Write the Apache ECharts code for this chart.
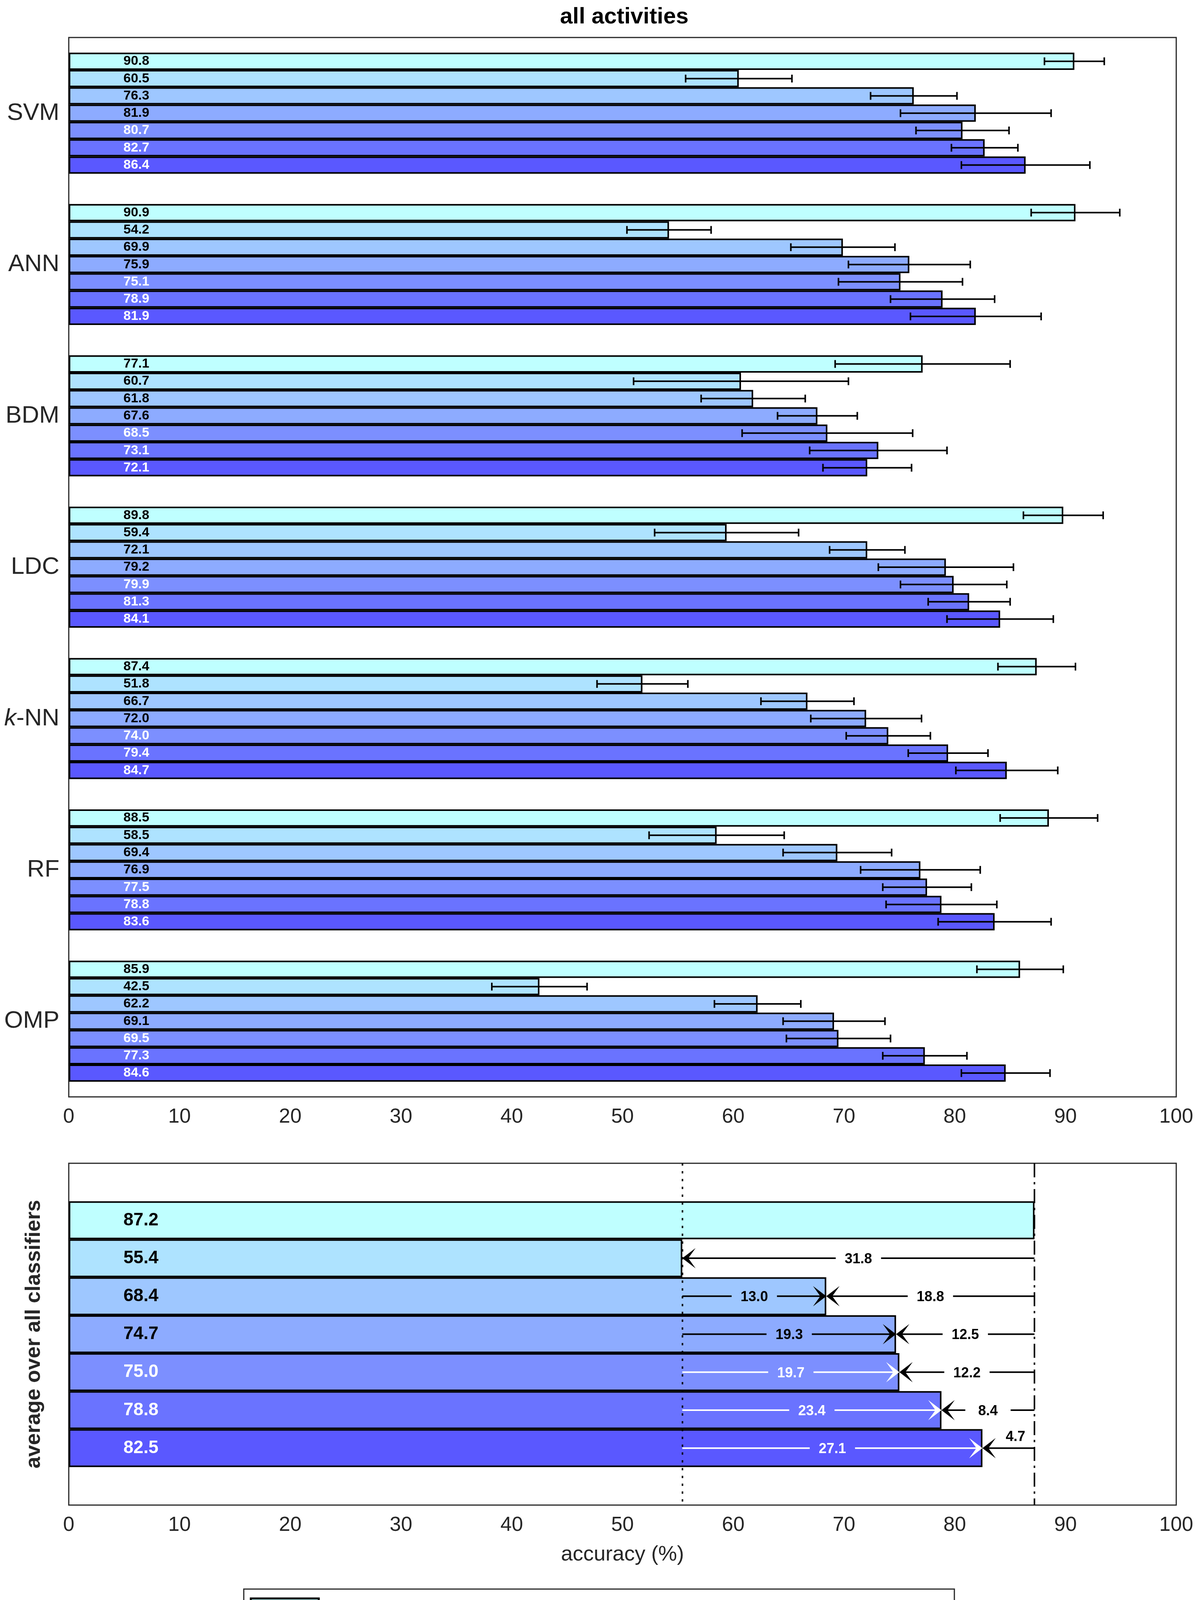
<!DOCTYPE html>
<html><head><meta charset="utf-8">
<script src="https://cdn.jsdelivr.net/npm/echarts@6/dist/echarts.min.js"></script>
<style>html,body{margin:0;padding:0;background:#fff}#c{width:3059px;height:4656px}</style>
</head><body><div id="c"></div>
<script>
const classifiers = ['SVM','ANN','BDM','LDC','k-NN','RF','OMP'];
const methodNames = ['reference (no transformation)','random rotation','Euclidean norm','sensor sequences with respect to the Earth frame','sensor sequences along and perpendicular to the gravity vector','SVD-based transformation','proposed method'];
const colors = ['#BFFFFF','#AEE3FF','#9EC7FF','#8DABFF','#7C8FFF','#6A73FF','#5A58FF'];
const labelColors = ['#000','#000','#000','#000','#fff','#fff','#fff'];
// accuracy per method (rows) over classifiers (columns)
const acc = [
 [90.8,90.9,77.1,89.8,87.4,88.5,85.9],
 [60.5,54.2,60.7,59.4,51.8,58.5,42.5],
 [76.3,69.9,61.8,72.1,66.7,69.4,62.2],
 [81.9,75.9,67.6,79.2,72.0,76.9,69.1],
 [80.7,75.1,68.5,79.9,74.0,77.5,69.5],
 [82.7,78.9,73.1,81.3,79.4,78.8,77.3],
 [86.4,81.9,72.1,84.1,84.7,83.6,84.6]
];
const err = [
 [2.7,4.0,7.9,3.6,3.5,4.4,3.9],
 [4.8,3.8,9.7,6.5,4.1,6.1,4.3],
 [3.9,4.7,4.7,3.4,4.2,4.9,3.9],
 [6.8,5.5,3.6,6.1,5.0,5.4,4.6],
 [4.2,5.6,7.7,4.8,3.8,4.0,4.7],
 [3.0,4.7,6.2,3.7,3.6,5.0,3.8],
 [5.8,5.9,4.0,4.8,4.6,5.1,4.0]
];
const avg = [87.2,55.4,68.4,74.7,75.0,78.8,82.5];
const gainLabels = [null,null,'13.0','19.3','19.7','23.4','27.1'];
const gapLabels = [null,'31.8','18.8','12.5','12.2','8.4','4.7'];
const xTicks = [0,10,20,30,40,50,60,70,80,90,100];

const FONT = "'Liberation Sans', Arial, sans-serif";
const NFONT = "'Liberation Sans Narrow','Liberation Sans', Arial, sans-serif";
const AX = '#262626';
const NB = 7;

function fmt(v){return v.toFixed(1);}

const series = [];
for (let s=0;s<NB;s++){
  series.push({
    type:'bar', name:methodNames[s], xAxisIndex:0, yAxisIndex:0,
    data: acc[s], barGap:'0%', barCategoryGap:'20%',
    itemStyle:{color:colors[s], borderColor:'#000', borderWidth:4},
    label:{show:true, position:'insideLeft', distance:140, formatter:p=>fmt(p.value),
      color:labelColors[s], fontFamily:NFONT, fontWeight:'bold', fontSize:34},
    silent:true, z:2
  });
}
// error bars
const errData = [];
for (let s=0;s<NB;s++) for (let c=0;c<classifiers.length;c++) errData.push([acc[s][c], err[s][c], c, s]);
series.push({
  type:'custom', xAxisIndex:0, yAxisIndex:0, z:5, silent:true,
  data: errData, encode:{x:0,y:2},
  renderItem:(params, api)=>{
    const v=api.value(0), e=api.value(1), c=api.value(2), s=api.value(3);
    const p = api.coord([v,c]);
    const band = api.size([0,1])[1];
    const bw = band*0.8/NB;
    const y = p[1] - 0.4*band + (s+0.5)*bw;
    const x1 = api.coord([v-e,c])[0], x2 = api.coord([v+e,c])[0];
    const st = {stroke:'#000', lineWidth:4};
    return {type:'group', children:[
      {type:'line', shape:{x1:x1,y1:y,x2:x2,y2:y}, style:st},
      {type:'line', shape:{x1:x1,y1:y-10,x2:x1,y2:y+10}, style:st},
      {type:'line', shape:{x1:x2,y1:y-10,x2:x2,y2:y+10}, style:st}
    ]};
  }
});
// bottom average chart
const avgCats = ['', ...methodNames, ''];
series.push({
  type:'bar', xAxisIndex:2, yAxisIndex:2, barWidth:'100%', silent:true, z:2,
  data: [null, ...avg.map((v,i)=>({value:v, itemStyle:{color:colors[i]}, label:{color:labelColors[i]}})), null],
  itemStyle:{borderColor:'#000', borderWidth:4},
  label:{show:true, position:'insideLeft', distance:140, formatter:p=>fmt(p.value),
    fontFamily:FONT, fontWeight:'bold', fontSize:46},
  markLine:{silent:true, symbol:'none', label:{show:false},
    data:[
      {xAxis:avg[1], lineStyle:{color:'#000', width:4, type:[6,14]}},
      {xAxis:avg[0], lineStyle:{color:'#000', width:4, type:[36,12,6,12]}}
    ]}
});
const arrowData = avg.map((v,i)=>[v, i+1, i]);
function arrowHead(x,y,dir,color){
  // dir = +1 pointing right, -1 pointing left; tip at x
  const L=34, H=26;
  return {type:'polygon', shape:{points:[[x,y],[x-dir*L,y-H],[x-dir*L*0.45,y],[x-dir*L,y+H]]}, style:{fill:color}};
}
series.push({
  type:'custom', xAxisIndex:2, yAxisIndex:2, z:6, silent:true,
  data: arrowData, encode:{x:0,y:1},
  renderItem:(params, api)=>{
    const v=api.value(0), row=api.value(1), i=api.value(2);
    const children=[];
    const y = api.coord([v,row])[1];
    const xv = api.coord([v,row])[0];
    const xb = api.coord([avg[1],row])[0];
    const xr = api.coord([avg[0],row])[0];
    const HG = 58;
    const tf = {fontFamily:NFONT, fontWeight:'bold', fontSize:36, align:'center', verticalAlign:'middle'};
    if (gainLabels[i]){
      const col = i>=4 ? '#fff' : '#000';
      const m=(xb+xv)/2;
      children.push({type:'line', shape:{x1:xb,y1:y,x2:m-HG,y2:y}, style:{stroke:col,lineWidth:4}});
      children.push({type:'line', shape:{x1:m+HG,y1:y,x2:xv-10,y2:y}, style:{stroke:col,lineWidth:4}});
      children.push(arrowHead(xv,y,1,col));
      children.push({type:'text', x:m, y:y+3, style:Object.assign({text:gainLabels[i], fill:col}, tf)});
    }
    if (gapLabels[i]){
      const m=(xv+xr)/2;
      if (xr-xv > 2*HG+80){
        children.push({type:'line', shape:{x1:xr,y1:y,x2:m+HG,y2:y}, style:{stroke:'#000',lineWidth:4}});
        children.push({type:'line', shape:{x1:m-HG,y1:y,x2:xv+10,y2:y}, style:{stroke:'#000',lineWidth:4}});
        children.push({type:'text', x:m, y:y+3, style:Object.assign({text:gapLabels[i], fill:'#000'}, tf)});
      } else {
        children.push({type:'line', shape:{x1:xr,y1:y,x2:xv+10,y2:y}, style:{stroke:'#000',lineWidth:4}});
        children.push({type:'text', x:m+18, y:y-28, style:Object.assign({text:gapLabels[i], fill:'#000'}, tf)});
      }
      children.push(arrowHead(xv,y,-1,'#000'));
    }
    return {type:'group', children};
  }
});

const xCommon = {type:'value', min:0, max:100, interval:10};
const grids = [
  {left:176, right:48, top:96, height:2712, show:true, borderColor:AX, borderWidth:3},
  {left:176, right:48, top:2978, height:875, show:true, borderColor:AX, borderWidth:3}
];
const option = {
  animation:false, backgroundColor:'#fff',
  title:{text:'all activities', left:1593, top:10, textAlign:'center',
    textStyle:{fontFamily:FONT, fontWeight:'bold', fontSize:58, color:'#000'}},
  grid: grids,
  xAxis:[
    Object.assign({gridIndex:0, position:'bottom', axisLine:{show:false},
      axisTick:{inside:true, length:28, lineStyle:{color:AX,width:3}},
      axisLabel:{fontFamily:FONT, fontSize:52, color:AX, margin:26}, splitLine:{show:false}}, xCommon),
    Object.assign({gridIndex:0, position:'top', axisLine:{show:false},
      axisTick:{inside:true, length:28, lineStyle:{color:AX,width:3}},
      axisLabel:{show:false}, splitLine:{show:false}}, xCommon),
    Object.assign({gridIndex:1, position:'bottom', axisLine:{show:false},
      axisTick:{inside:true, length:28, lineStyle:{color:AX,width:3}},
      axisLabel:{fontFamily:FONT, fontSize:52, color:AX, margin:26}, splitLine:{show:false},
      name:'accuracy (%)', nameLocation:'middle', nameGap:100,
      nameTextStyle:{fontFamily:FONT, fontSize:54, color:AX}}, xCommon)
  ],
  yAxis:[
    {type:'category', gridIndex:0, data:classifiers, inverse:true, position:'left',
      axisLine:{show:false}, axisTick:{inside:true, alignWithLabel:true, length:28, lineStyle:{color:AX,width:3}},
      axisLabel:{fontFamily:FONT, fontSize:62, color:AX, margin:24,
        formatter:v=> v==='k-NN' ? '{i|k}{n|-NN}' : v,
        rich:{i:{fontFamily:FONT, fontSize:62, fontStyle:'italic', color:AX}, n:{fontFamily:FONT, fontSize:62, color:AX}}}},
    {type:'category', gridIndex:0, data:classifiers, inverse:true, position:'right',
      axisLine:{show:false}, axisTick:{inside:true, alignWithLabel:true, length:28, lineStyle:{color:AX,width:3}},
      axisLabel:{show:false}},
    {type:'category', gridIndex:1, data:avgCats, inverse:true, position:'left',
      axisLine:{show:false}, axisTick:{show:false}, axisLabel:{show:false},
      name:'average over all classifiers', nameLocation:'middle', nameGap:62, nameRotate:90,
      nameTextStyle:{fontFamily:FONT, fontWeight:'bold', fontSize:54, color:AX}}
  ],
  series: series,
  graphic: []
};

// legend box
const lg = {x:624, y:4068, w:1819, h:585};
const gEls = [{type:'rect', shape:{x:lg.x,y:lg.y,width:lg.w,height:lg.h}, style:{fill:'#fff', stroke:AX, lineWidth:3}}];
const rowY = [4119,4191,4265,4337,4409,4481,4590];
for (let s=0;s<NB;s++){
  gEls.push({type:'rect', shape:{x:642,y:rowY[s]-27,width:174,height:54}, style:{fill:colors[s], stroke:'#000', lineWidth:5}});
  if (s<NB-1){
    gEls.push({type:'text', x:833, y:rowY[s], style:{text:methodNames[s], fontFamily:FONT, fontSize:48, fill:'#000', verticalAlign:'middle'}});
  }
}
gEls.push({type:'text', x:833, y:4555, style:{text:'{b|proposed method:} sensor sequences and differential quaternions,', verticalAlign:'middle',
  rich:{b:{fontFamily:FONT, fontSize:48, fontWeight:'bold', fill:'#000'}}, fontFamily:FONT, fontSize:48, fill:'#000'}});
gEls.push({type:'text', x:833, y:4627, style:{text:'both with respect to the Earth frame', fontFamily:FONT, fontSize:48, fill:'#000', verticalAlign:'middle'}});
option.graphic = gEls;

const chart = echarts.init(document.getElementById('c'));
chart.setOption(option);
</script></body></html>
